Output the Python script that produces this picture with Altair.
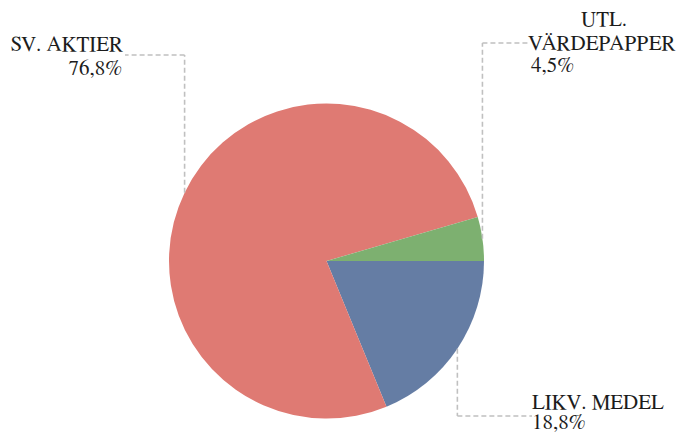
import math
import altair as alt
import pandas as pd

# ---- data ----
categories = ["LIKV. MEDEL", "SV. AKTIER", "UTL. VÄRDEPAPPER"]
shares = [18.8, 76.8, 4.5]
share_labels = ["18,8%", "76,8%", "4,5%"]
colors = ["#657da4", "#df7a73", "#7db070"]

# ---- layout (chart pixel coordinates) ----
W, H = 671, 426
CX, CY, R = 318.5, 253.0, 157.5
START = math.pi / 2  # pie starts at 3 o'clock, clockwise
FONT = "FreeSerif"
FS = 21
TXT = "#1c1c1c"

pie_df = pd.DataFrame({"cat": categories, "share": shares, "order": list(range(len(shares)))})

pie = alt.Chart(pie_df).mark_arc(radius=R, x=CX, y=CY).encode(
    theta=alt.Theta("share:Q", stack=True,
                    scale=alt.Scale(range=[START, START + 2 * math.pi])),
    order=alt.Order("order:Q"),
    color=alt.Color("cat:N", scale=alt.Scale(domain=categories, range=colors), legend=None),
)

# leader lines: anchor on pie edge at each slice's middle angle
total = sum(shares)
elbows = {  # category -> (elbow y, end x)
    "LIKV. MEDEL": (408, 524),
    "SV. AKTIER": (47, 117),
    "UTL. VÄRDEPAPPER": (35, 520),
}
segs = []
cum = 0.0
for c, s in zip(categories, shares):
    mid = START + 2 * math.pi * (cum + s / 2) / total
    cum += s
    ax = CX + R * math.sin(mid)
    ay = CY - R * math.cos(mid)
    ey, ex = elbows[c]
    segs.append({"x": ax, "y": ay, "x2": ax, "y2": ey})
    segs.append({"x": ax, "y": ey, "x2": ex, "y2": ey})
seg_df = pd.DataFrame(segs)

lines = alt.Chart(seg_df).mark_rule(color="#c0c0c0", strokeWidth=1.6, strokeDash=[5, 3]).encode(
    x=alt.X("x:Q", scale=None, axis=None),
    y=alt.Y("y:Q", scale=None, axis=None),
    x2="x2:Q",
    y2="y2:Q",
)

def text_layer(rows, align):
    df = pd.DataFrame(rows, columns=["t", "x", "y"])
    return alt.Chart(df).mark_text(align=align, baseline="alphabetic", font=FONT,
                                   fontSize=FS, color=TXT).encode(
        x=alt.X("x:Q", scale=None, axis=None),
        y=alt.Y("y:Q", scale=None, axis=None),
        text="t:N",
    )

right_txt = text_layer([["SV. AKTIER", 115, 43], [share_labels[1], 114, 67]], "right")
center_txt = text_layer([["UTL.", 596, 18]], "center")
left_txt = text_layer([
    ["VÄRDEPAPPER", 520, 42],
    [share_labels[2], 523, 64],
    ["LIKV. MEDEL", 524, 401],
    [share_labels[0], 524, 421],
], "left")

chart = alt.layer(pie, lines, right_txt, center_txt, left_txt).properties(
    width=W, height=H, padding=0, autosize=alt.AutoSizeParams(type="none"),
).configure_view(stroke=None)

chart.save("out.html", embed_options={"renderer": "svg", "actions": False})
